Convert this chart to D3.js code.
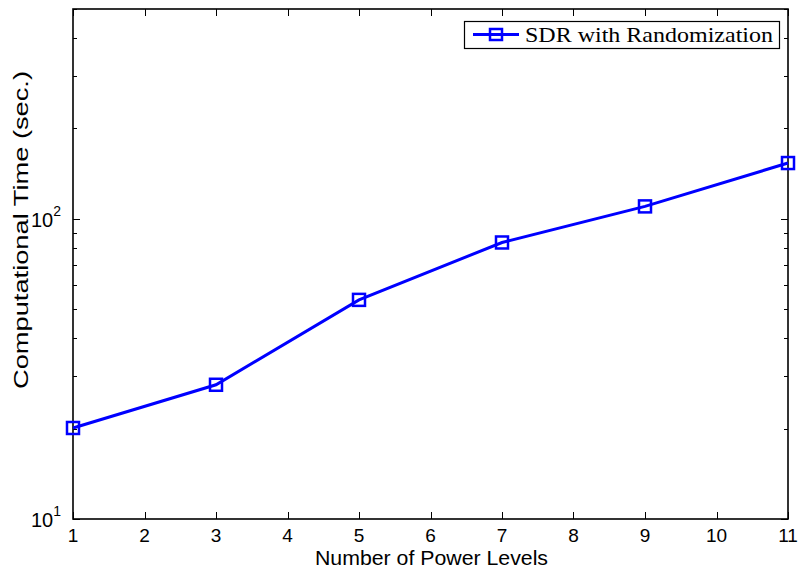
<!DOCTYPE html>
<html>
<head>
<meta charset="utf-8">
<script src="https://cdn.jsdelivr.net/npm/d3@7"></script>
<style>
  body { margin: 0; background: #fff; }
  text { font-family: Arial, "Liberation Sans", sans-serif; fill: #000; }
</style>
</head>
<body>
<svg class="chart"></svg>
<script>
//
// Computational time vs. number of power levels, log-scale y axis.
//

var powerLevels = [1, 3, 5, 7, 9, 11];
var compTime = [20.1, 28.0, 53.7, 83.4, 110, 153.4];
var seriesName = "SDR with Randomization";
var xTicks = [1, 2, 3, 4, 5, 6, 7, 8, 9, 10, 11];
var yMajorTicks = [10, 100];
var yMinorTicks = [20, 30, 40, 50, 60, 70, 80, 90, 200, 300, 400, 500];

var width = 802, height = 571;
var plot = { left: 73, right: 788, top: 9, bottom: 519 };

var svg = d3.select("svg.chart")
    .attr("width", width)
    .attr("height", height);

var x = d3.scaleLinear().domain([1, 11]).range([plot.left, plot.right]);
var y = d3.scaleLog().domain([10, 500]).range([plot.bottom, plot.top]);

var axisColor = "#000";

// Tick marks pointing inward on all four sides (MATLAB box style).
var ticks = svg.append("g").attr("stroke", axisColor).attr("stroke-width", 1);

xTicks.forEach(function (t) {
    var px = Math.round(x(t)) + 0.5;
    ticks.append("line").attr("x1", px).attr("x2", px).attr("y1", plot.bottom).attr("y2", plot.bottom - 7);
    ticks.append("line").attr("x1", px).attr("x2", px).attr("y1", plot.top).attr("y2", plot.top + 7);
});

yMajorTicks.forEach(function (t) {
    var py = Math.round(y(t)) + 0.5;
    ticks.append("line").attr("x1", plot.left).attr("x2", plot.left + 7).attr("y1", py).attr("y2", py);
    ticks.append("line").attr("x1", plot.right).attr("x2", plot.right - 7).attr("y1", py).attr("y2", py);
});

yMinorTicks.forEach(function (t) {
    var py = Math.round(y(t)) + 0.5;
    ticks.append("line").attr("x1", plot.left).attr("x2", plot.left + 4).attr("y1", py).attr("y2", py);
    ticks.append("line").attr("x1", plot.right).attr("x2", plot.right - 4).attr("y1", py).attr("y2", py);
});

// Axes box.
svg.append("rect")
    .attr("x", plot.left)
    .attr("y", plot.top)
    .attr("width", plot.right - plot.left)
    .attr("height", plot.bottom - plot.top)
    .attr("fill", "none")
    .attr("stroke", axisColor)
    .attr("stroke-width", 1.6);

// Tick labels.
svg.append("g").selectAll("text")
    .data(xTicks)
    .enter()
    .append("text")
        .attr("x", function (d) { return x(d); })
        .attr("y", 542)
        .attr("text-anchor", "middle")
        .attr("font-size", 19)
        .text(function (d) { return d; });

var yLabels = svg.append("g").selectAll("text")
    .data(yMajorTicks)
    .enter()
    .append("text")
        .attr("x", 61)
        .attr("y", function (d) { return y(d) + 8; })
        .attr("text-anchor", "end")
        .attr("font-size", 20);
yLabels.append("tspan").text("10");
yLabels.append("tspan")
    .attr("font-size", 14)
    .attr("dy", -11)
    .text(function (d) { return Math.round(Math.log10(d)); });

// Axis titles.
svg.append("text")
    .attr("x", (plot.left + plot.right) / 2 + 1)
    .attr("y", 565)
    .attr("text-anchor", "middle")
    .attr("font-size", 20)
    .attr("textLength", 233)
    .attr("lengthAdjust", "spacingAndGlyphs")
    .text("Number of Power Levels");

svg.append("text")
    .attr("transform", "translate(28,389) rotate(-90)")
    .attr("text-anchor", "start")
    .attr("font-size", 21)
    .attr("textLength", 318)
    .attr("lengthAdjust", "spacingAndGlyphs")
    .text("Computational Time (sec.)");

// Data line and square markers.
var blue = "#0000ff";
var data = powerLevels.map(function (p, i) { return { p: p, t: compTime[i] }; });

svg.append("path")
    .datum(data)
    .attr("fill", "none")
    .attr("stroke", blue)
    .attr("stroke-width", 3)
    .attr("d", d3.line().x(function (d) { return x(d.p); }).y(function (d) { return y(d.t); }));

svg.append("g").selectAll("rect")
    .data(data)
    .enter()
    .append("rect")
        .attr("x", function (d) { return x(d.p) - 6; })
        .attr("y", function (d) { return y(d.t) - 6; })
        .attr("width", 12)
        .attr("height", 12)
        .attr("fill", "none")
        .attr("stroke", blue)
        .attr("stroke-width", 2.5);

// Legend.
var legend = svg.append("g");
legend.append("rect")
    .attr("x", 464.5).attr("y", 21.5)
    .attr("width", 315).attr("height", 27)
    .attr("fill", "#fff")
    .attr("stroke", axisColor)
    .attr("stroke-width", 1.2);
legend.append("line")
    .attr("x1", 473).attr("x2", 519).attr("y1", 34.5).attr("y2", 34.5)
    .attr("stroke", blue).attr("stroke-width", 3);
legend.append("rect")
    .attr("x", 490).attr("y", 29).attr("width", 12).attr("height", 11)
    .attr("fill", "none").attr("stroke", blue).attr("stroke-width", 2.5);
legend.append("text")
    .attr("x", 525)
    .attr("y", 42)
    .attr("font-size", 21)
    .attr("textLength", 248)
    .attr("lengthAdjust", "spacingAndGlyphs")
    .style("font-family", "'Liberation Serif', 'DejaVu Serif', serif")
    .text(seriesName);
</script>
</body>
</html>
